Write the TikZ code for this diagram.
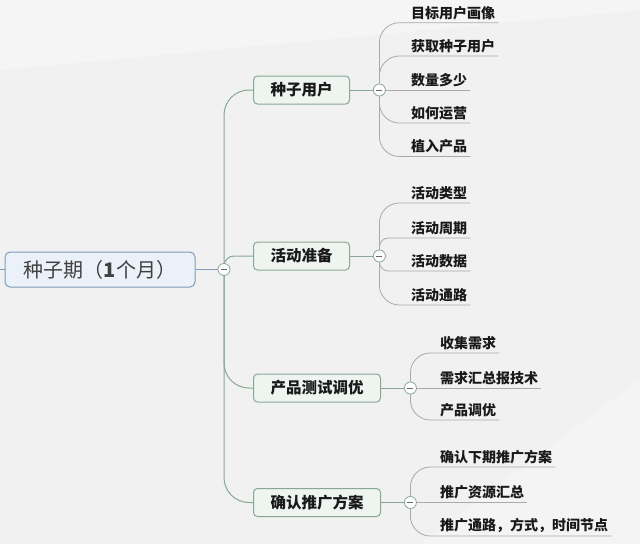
\documentclass[tikz,border=0pt]{standalone}
\usepackage{fontspec}
\newfontfamily\cjk{Noto Sans CJK SC}
\usetikzlibrary{positioning,calc}
\definecolor{rootline}{HTML}{7F9BB8}
\definecolor{rootfill}{HTML}{EAF1F8}
\definecolor{branchline}{HTML}{86A894}
\definecolor{branchfill}{HTML}{EEF5F0}
\definecolor{leafline}{HTML}{A9A9A9}
\definecolor{bgcol}{HTML}{F1F1F1}
\pgfdeclarelayer{back}
\pgfdeclarelayer{bg}
\pgfsetlayers{back,bg,main}

\tikzset{
  rootbox/.style={draw=rootline,fill=rootfill,line width=1pt,rounded corners=5pt,
    minimum width=190pt,minimum height=35pt,text=black!75,
    font=\cjk\fontsize{20}{23}\selectfont},
  branchbox/.style={draw=branchline,fill=branchfill,line width=1pt,rounded corners=4pt,
    minimum height=28pt,inner xsep=17pt,text=black!90,
    font=\cjk\bfseries\fontsize{15.5}{18}\selectfont},
  leaf/.style={anchor=south west,inner xsep=3pt,inner ysep=3pt,text=black!90,
    font=\cjk\bfseries\fontsize{14}{16}\selectfont},
  fold/.style={circle,draw=branchline,fill=white,line width=0.8pt,minimum size=12pt,inner sep=0pt,
    path picture={\draw[line width=1pt,black!60]
      ([xshift=-3pt]path picture bounding box.center) -- ([xshift=3pt]path picture bounding box.center);}},
  trunk/.style={draw=branchline,line width=1pt,rounded corners=#1},
  trunk/.default=25pt,
  twig/.style={draw=leafline,line width=0.8pt,rounded corners=#1},
  twig/.default=20pt,
}

\begin{document}
\begin{tikzpicture}[x=1pt,y=-1pt]
  \begin{pgfonlayer}{back}
    \fill[bgcol] (0,0) rectangle (640,544);
    \fill[white,opacity=0.35] (0,0) -- (640,0) -- (640,10) -- (0,70) -- cycle;
    \fill[white,opacity=0.25] (420,544) -- (640,380) -- (640,544) -- cycle;
  \end{pgfonlayer}
  \useasboundingbox (0,0) rectangle (640,544);

  % root and main branches
  \coordinate (cut) at (0,269.5);
  \node[rootbox] (root) at (100,269.5) {种子期（\textbf{1}个月）};
  \node[fold] (f0) at (224,269.5) {};
  \node[branchbox,anchor=west] (seed) at (253,90) {种子用户};
  \node[branchbox,anchor=west] (prep) at (253,256) {活动准备};
  \node[branchbox,anchor=west] (test) at (253,388) {产品测试调优};
  \node[branchbox,anchor=west] (plan) at (253,502.5) {确认推广方案};
  \node[fold,right=23pt of seed] (f1) {};
  \node[fold,right=23pt of prep] (f2) {};
  \node[fold,right=23pt of test] (f3) {};
  \node[fold,right=23pt of plan] (f4) {};

  \draw[rootline,line width=1pt] (cut) -- (root.west);
  \draw[rootline,line width=1pt] (root.east) -- (f0);
  \foreach \b/\f in {seed/f1,prep/f2,test/f3,plan/f4}
    \draw[branchline,line width=1pt] (\b.east) -- (\f);
  \begin{pgfonlayer}{bg}
    \foreach \b/\r in {seed/25pt,prep/10pt,test/25pt,plan/25pt}
      \draw[trunk=\r] (f0.center) |- (\b.west);
  \end{pgfonlayer}

  % leaves
  \foreach \t/\y/\r [count=\i] in {目标用户画像/22.7/20pt,获取种子用户/56/20pt,数量多少/90/0pt,如何运营/123/20pt,植入产品/156.5/20pt}{
    \node[leaf] (s\i) at (408,\y) {\t};
    \begin{pgfonlayer}{bg}\draw[twig=\r] (f1.center) |- (s\i.south east);\end{pgfonlayer}
  }
  \foreach \t/\y/\r [count=\i] in {活动类型/203/20pt,活动周期/238/9pt,活动数据/271/9pt,活动通路/305/20pt}{
    \node[leaf] (a\i) at (408,\y) {\t};
    \begin{pgfonlayer}{bg}\draw[twig=\r] (f2.center) |- (a\i.south east);\end{pgfonlayer}
  }
  \foreach \t/\y/\r [count=\i] in {收集需求/353/20pt,需求汇总报技术/388/0pt,产品调优/420/20pt}{
    \node[leaf] (p\i) at (437,\y) {\t};
    \begin{pgfonlayer}{bg}\draw[twig=\r] (f3.center) |- (p\i.south east);\end{pgfonlayer}
  }
  \foreach \t/\y/\r [count=\i] in {确认下期推广方案/467/20pt,推广资源汇总/502.5/0pt,推广通路，方式，时间节点/536/20pt}{
    \node[leaf] (c\i) at (437,\y) {\t};
    \begin{pgfonlayer}{bg}\draw[twig=\r] (f4.center) |- (c\i.south east);\end{pgfonlayer}
  }
\end{tikzpicture}
\end{document}
